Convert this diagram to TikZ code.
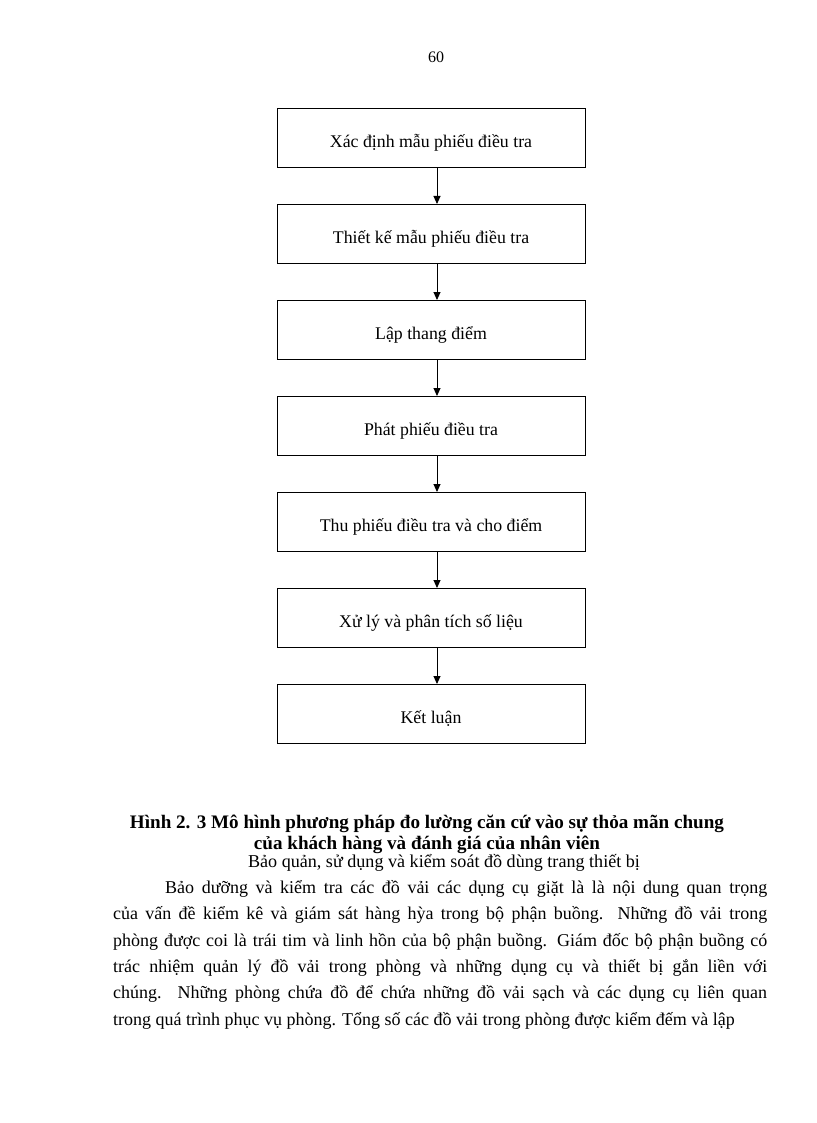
\documentclass[tikz,border=0pt]{standalone}
\usepackage{fontspec}
\setmainfont{Liberation Serif}
\usetikzlibrary{arrows.meta}
\begin{document}
\begin{tikzpicture}[x=1pt,y=-1pt,
  stepbox/.style={draw,line width=0.9pt,minimum width=308pt,minimum height=59pt,anchor=north,font=\fontsize{17.8}{20}\selectfont,inner sep=0pt,text height=19pt,text depth=0pt},
  arr/.style={-{Triangle[length=8pt,width=7pt]},line width=0.9pt}]
\useasboundingbox[fill=white] (0,0) rectangle (816,1123);
\node[font=\fontsize{16}{19}\selectfont] (pg) at (436,57) {60};
\node[stepbox] (b1) at (431,108) {Xác định mẫu  phiếu điều tra};
\node[stepbox] (b2) at (431,204) {Thiết kế mẫu  phiếu điều tra};
\node[stepbox] (b3) at (431,300) {Lập thang điểm};
\node[stepbox] (b4) at (431,396) {Phát phiếu điều tra};
\node[stepbox] (b5) at (431,492) {Thu  phiếu điều tra và  cho điểm};
\node[stepbox] (b6) at (431,588) {Xử lý và  phân  tích số liệu};
\node[stepbox] (b7) at (431,684) {Kết luận};
\foreach \a/\b in {b1/b2,b2/b3,b3/b4,b4/b5,b5/b6,b6/b7}
  \draw[arr] ([xshift=6pt]\a.south) -- ([xshift=6pt]\b.north);
\node[font=\bfseries\fontsize{19.1}{21}\selectfont,align=center] (cap) at (427,834)
  {Hình 2. 3 Mô hình phương pháp  đo lường căn cứ vào sự thỏa mãn chung\\
   của khách hàng và đánh giá của nhân viên};
\node[font=\fontsize{18.1}{20}\selectfont] (sub) at (444,863) {Bảo quản,  sử dụng và kiểm soát đồ dùng trang thiết bị};
\node[font=\fontsize{18}{26.4}\selectfont,text width=654pt,align=justify,anchor=north west,inner sep=0pt] (para) at (113,880)
  {\parindent=52pt\indent Bảo dưỡng và kiểm tra các đồ vải  các dụng  cụ giặt là là nội dung  quan  trọng\linebreak
  của vấn đề kiểm kê và giám sát hàng hỳa trong bộ phận  buồng. Những đồ vải  trong\linebreak
  phòng được coi là trái tim và linh hồn của bộ phận buồng.  Giám đốc bộ phận buồng có\linebreak
  trác nhiệm quản lý đồ vải trong phòng và những dụng cụ và thiết bị gắn liền với\linebreak
  chúng.  Những phòng chứa đồ để chứa những đồ vải  sạch và các dụng cụ liên quan\linebreak
  trong quá trình phục vụ phòng.  Tổng số các đồ vải  trong phòng được kiểm đếm và lập};
\end{tikzpicture}
\end{document}
